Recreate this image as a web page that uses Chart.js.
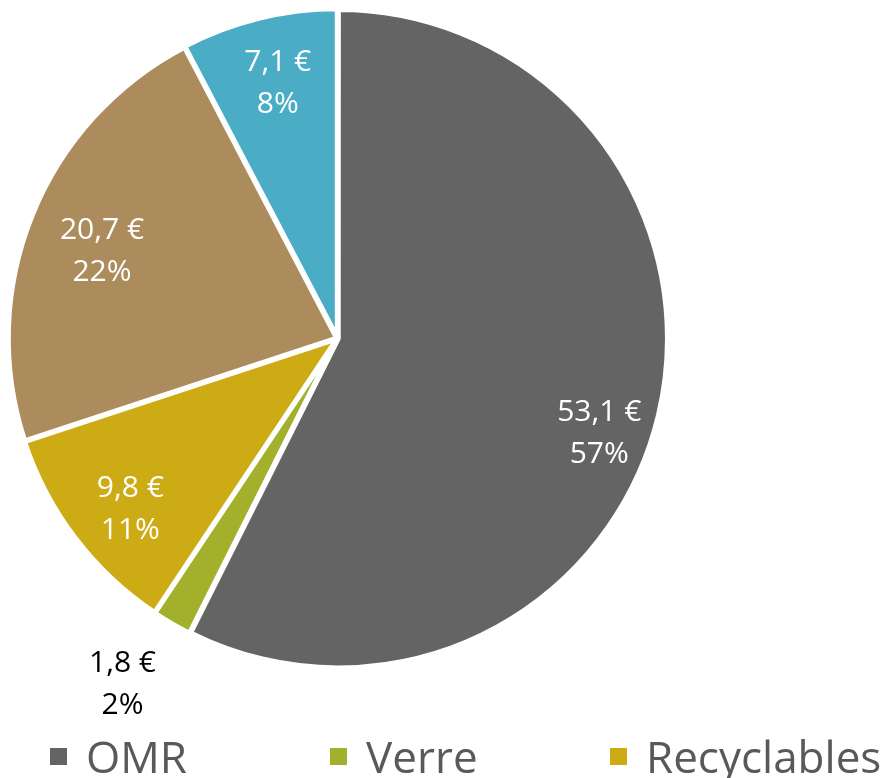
<!DOCTYPE html>
<html>
<head>
<meta charset="utf-8">
<script src="https://cdn.jsdelivr.net/npm/chart.js@4/dist/chart.umd.min.js"></script>
<style>
  html, body { margin: 0; padding: 0; background: #fff; overflow: hidden; }
  #wrap { position: relative; width: 888px; height: 778px; overflow: hidden; }
  #chart { position: absolute; left: 0; top: 0; }
  #legend {
    position: absolute; left: 50px; top: 727px; width: 860px;
    display: flex; flex-wrap: wrap;
    font-family: "Open Sans", sans-serif; font-size: 44px; color: #595959;
  }
  .item { width: 280px; display: flex; align-items: center; line-height: 58px; }
  .box { width: 17px; height: 17px; margin-right: 19px; flex: none; }
</style>
</head>
<body>
<div id="wrap">
  <canvas id="chart" width="888" height="778"></canvas>
  <div id="legend"></div>
</div>
<script>
const categories = ["OMR", "Verre", "Recyclables", "Déchèteries", "Autres"];
const costs = [53.1, 1.8, 9.8, 20.7, 7.1];
const colors = ["#646464", "#a3b02b", "#cdab15", "#ac8c5c", "#4aacc5"];
const outsideLabel = [false, true, false, false, false];
// small nudges to follow Excel's label placement
const labelNudge = [[6, 34], [-12, -3], [2, 12], [8, 12], [3, 0]];

const total = costs.reduce((a, b) => a + b, 0);

// slice labels: "53,1 €" then "57%"
const sliceLabels = {
  id: "sliceLabels",
  afterDatasetsDraw(chart) {
    const ctx = chart.ctx;
    const meta = chart.getDatasetMeta(0);
    ctx.save();
    ctx.font = '30px "Open Sans", sans-serif';
    ctx.textAlign = "center";
    ctx.textBaseline = "middle";
    meta.data.forEach((arc, i) => {
      const p = arc.getProps(["x", "y", "startAngle", "endAngle", "outerRadius"], true);
      const mid = (p.startAngle + p.endAngle) / 2;
      const r = p.outerRadius * (outsideLabel[i] ? 1.23 : 0.8);
      const x = p.x + Math.cos(mid) * r + labelNudge[i][0];
      const y = p.y + Math.sin(mid) * r + labelNudge[i][1];
      const v = costs[i].toFixed(1).replace(".", ",") + " €";
      const pct = Math.round(costs[i] / total * 100) + "%";
      ctx.fillStyle = outsideLabel[i] ? "#000" : "#fff";
      ctx.fillText(v, x, y - 21);
      ctx.fillText(pct, x, y + 21);
    });
    ctx.restore();
  }
};

new Chart(document.getElementById("chart"), {
  type: "pie",
  data: {
    labels: categories,
    datasets: [{
      data: costs,
      backgroundColor: colors,
      borderColor: "#fff",
      borderWidth: 5,
      offset: 3
    }]
  },
  options: {
    responsive: false,
    animation: false,
    layout: { padding: { left: 5, right: 218, top: 6, bottom: 107 } },
    plugins: {
      legend: { display: false },
      tooltip: { enabled: false }
    }
  },
  plugins: [sliceLabels]
});

const legend = document.getElementById("legend");
categories.forEach((c, i) => {
  const item = document.createElement("div");
  item.className = "item";
  item.innerHTML = '<span class="box" style="background:' + colors[i] + '"></span><span>' + c + '</span>';
  legend.appendChild(item);
});
</script>
</body>
</html>
